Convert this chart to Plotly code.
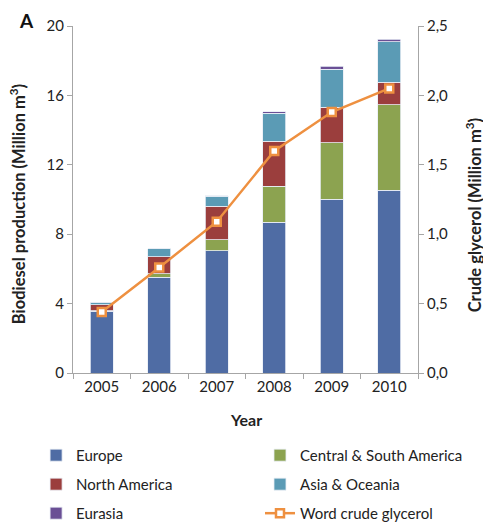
import plotly.graph_objects as go

years = ["2005", "2006", "2007", "2008", "2009", "2010"]
europe = [3.55, 5.53, 7.05, 8.68, 10.02, 10.52]
csa = [0.05, 0.19, 0.63, 2.07, 3.24, 4.93]
north_america = [0.33, 0.97, 1.92, 2.60, 2.07, 1.30]
asia_oceania = [0.12, 0.46, 0.58, 1.62, 2.19, 2.33]
eurasia = [0.02, 0.02, 0.03, 0.08, 0.15, 0.17]
glycerol = [0.44, 0.76, 1.09, 1.60, 1.88, 2.05]

FONT = "Lato"
C_EU = "#4F6CA4"
C_CSA = "#8CA350"
C_NA = "#9B3E3D"
C_AS = "#5B9BB5"
C_EA = "#6A4F95"
C_GL = "#EE9040"

fig = go.Figure()

bar_specs = [
    ("Europe", europe, C_EU, "legend"),
    ("Central & South America", csa, C_CSA, "legend2"),
    ("North America", north_america, C_NA, "legend"),
    ("Asia & Oceania", asia_oceania, C_AS, "legend2"),
    ("Eurasia", eurasia, C_EA, "legend"),
]
for name, vals, col, lg in bar_specs:
    fig.add_trace(go.Bar(
        x=years, y=vals, name=name, marker=dict(color=col, line=dict(color="#e8eef5", width=0.8)),
        legend=lg, legendgroup=name,
    ))

fig.add_trace(go.Scatter(
    x=years, y=glycerol, name="Word crude glycerol", yaxis="y2",
    mode="lines+markers",
    line=dict(color=C_GL, width=2.5),
    marker=dict(symbol="square", size=8, color="white", line=dict(color=C_GL, width=2.5)),
    legend="legend2", legendgroup="gly",
))

axis_common = dict(
    showgrid=False, showline=True, linecolor="#a6a6a6", linewidth=1,
    ticks="outside", ticklen=5, tickcolor="#a6a6a6",
    tickfont=dict(family=FONT, size=15, color="#222"),
    zeroline=False,
)

legend_common = dict(
    yanchor="top", orientation="v", font=dict(family=FONT, size=15, color="#222"),
    tracegroupgap=6.5, traceorder="grouped", bgcolor="rgba(0,0,0,0)",
)

fig.update_layout(
    width=483, height=516,
    margin=dict(l=65, r=73, t=18, b=151, autoexpand=False),
    paper_bgcolor="white", plot_bgcolor="white",
    barmode="stack", bargap=0.6,
    separators=", ",
    font=dict(family=FONT, size=15, color="#222"),
    xaxis=dict(**axis_common, type="category", tickson="boundaries", range=[-0.5, 5.5]),
    yaxis=dict(**axis_common, range=[0, 20], dtick=4),
    yaxis2=dict(**axis_common, range=[0, 2.5], dtick=0.5, tickformat=".1f",
                overlaying="y", side="right"),
    legend=dict(x=-0.107, xanchor="left", y=-0.19, **legend_common),
    legend2=dict(x=0.542, xanchor="left", y=-0.19, **legend_common),
    annotations=[
        dict(text="<b>A</b>", x=-0.136, y=1.017, xref="paper", yref="paper",
             showarrow=False, font=dict(family=FONT, size=19, color="#111"),
             xanchor="center", yanchor="middle"),
        dict(text="<b>Biodiesel production (Million m<sup>3</sup>)</b>", textangle=-90,
             x=-0.159, y=0.487, xref="paper", yref="paper", showarrow=False,
             font=dict(family=FONT, size=16.5, color="#222"), xanchor="center", yanchor="middle"),
        dict(text="<b>Crude glycerol (Million m<sup>3</sup>)</b>", textangle=-90,
             x=1.163, y=0.455, xref="paper", yref="paper", showarrow=False,
             font=dict(family=FONT, size=16.5, color="#222"), xanchor="center", yanchor="middle"),
        dict(text="<b>Year</b>", x=0.5, y=-0.135, xref="paper", yref="paper", showarrow=False,
             font=dict(family=FONT, size=16, color="#222"), xanchor="center", yanchor="middle"),
    ],
)

fig.write_html("out.html")
